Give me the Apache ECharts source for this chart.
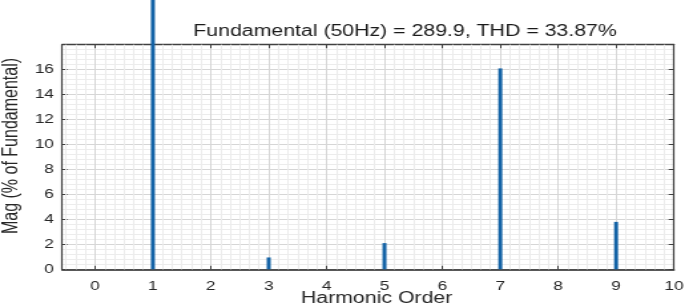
<!DOCTYPE html>
<html><head><meta charset="utf-8">
<script src="https://cdn.jsdelivr.net/npm/echarts@6/dist/echarts.min.js"></script>
<style>
html,body{margin:0;padding:0;background:#fff;overflow:hidden;}
#chart{width:515px;height:305px;transform:scaleX(1.3301);transform-origin:0 0;}
</style>
</head><body><div id="chart"></div>
<script>
// ---- data ----
const harmonicOrders = [1, 3, 5, 7, 9];
const magnitudes = [100, 0.95, 2.1, 16.1, 3.8];
const xTickValues = [0, 1, 2, 3, 4, 5, 6, 7, 8, 9, 10];
const yTickValues = [0, 2, 4, 6, 8, 10, 12, 14, 16];
const titleText = 'Fundamental (50Hz) = 289.9, THD = 33.87%';
const xAxisTitle = 'Harmonic Order';
const yAxisTitle = 'Mag (% of Fundamental)';

// ---- layout ----
const X_MIN = -0.57, X_MAX = 10, Y_MIN = 0, Y_MAX = 18;
const FONT = '"Liberation Sans", Arial, Helvetica, sans-serif';
const TXT = '#262626';
const FRAME = '#404040';

// minor vertical grid positions (6 divisions per unit)
const minorX = [];
for (let k = -1; k < 10; k++) {
  for (let j = 1; j < 6; j++) {
    const v = k + j / 6;
    if (v > X_MIN && v < X_MAX) minorX.push({ xAxis: v });
  }
}

const chart = echarts.init(document.getElementById('chart'), null, { renderer: 'canvas' });
const labelStyle = { color: TXT, fontFamily: FONT, fontSize: 13 };

chart.setOption({
  animation: false,
  backgroundColor: '#fff',
  grid: { left: 46.6, right: 8.3, top: 44.7, bottom: 35.7, containLabel: false, outerBoundsMode: 'none' },
  xAxis: [
    {
      type: 'value', min: X_MIN, max: X_MAX, position: 'bottom', splitNumber: 10,
      axisLine: { show: true, onZero: false, lineStyle: { color: '#222', width: 1.5 } },
      axisTick: { show: true, inside: true, length: 3.5, lineStyle: { color: FRAME } },
      axisLabel: {
        ...labelStyle, margin: 11,
        formatter: v => (xTickValues.indexOf(v) >= 0 ? String(v) : '')
      },
      splitLine: { show: true, lineStyle: { color: '#d6d6d6', width: 1 } },
      minorSplitLine: { show: false },
      name: xAxisTitle, nameLocation: 'middle', nameGap: 21.5, nameMoveOverlap: false,
      nameTextStyle: { color: TXT, fontFamily: FONT, fontSize: 16, padding: [0, 0, 0, 13] }
    },
    {
      type: 'value', min: X_MIN, max: X_MAX, position: 'top', splitNumber: 10,
      axisLine: { show: true, onZero: false, lineStyle: { color: FRAME, width: 1.3 } },
      axisTick: { show: true, inside: true, length: 3.5, lineStyle: { color: FRAME } },
      axisLabel: { show: false },
      splitLine: { show: false }
    }
  ],
  yAxis: [
    {
      type: 'value', min: Y_MIN, max: Y_MAX, interval: 2, position: 'left',
      axisLine: { show: true, onZero: false, lineStyle: { color: FRAME, width: 1.2 } },
      axisTick: { show: true, inside: true, length: 4, lineStyle: { color: FRAME } },
      axisLabel: {
        ...labelStyle, margin: 6,
        formatter: v => (yTickValues.indexOf(v) >= 0 ? String(v) : '')
      },
      splitLine: { show: true, lineStyle: { color: '#d6d6d6', width: 1 } },
      minorTick: { show: false, splitNumber: 5 },
      minorSplitLine: { show: true, lineStyle: { color: '#ececec', width: 1 } }
    },
    {
      type: 'value', min: Y_MIN, max: Y_MAX, interval: 2, position: 'right',
      axisLine: { show: true, onZero: false, lineStyle: { color: FRAME, width: 1.2 } },
      axisTick: { show: true, inside: true, length: 4, lineStyle: { color: FRAME } },
      axisLabel: { show: false },
      splitLine: { show: false }
    }
  ],
  graphic: [
    {
      type: 'text', x: 304.5, y: 31.5, z: 10,
      style: { text: titleText, align: 'center', verticalAlign: 'middle',
               font: '16px ' + FONT, fill: '#1a1a1a' }
    },
    {
      type: 'text', x: 9, y: 146, rotation: Math.PI / 2, z: 10,
      style: { text: yAxisTitle, align: 'center', verticalAlign: 'middle',
               font: '16px ' + FONT, fill: TXT }
    }
  ],
  series: [
    {
      type: 'line', data: [], xAxisIndex: 0, yAxisIndex: 0, z: 1, silent: true,
      markLine: {
        silent: true, symbol: ['none', 'none'], animation: false,
        label: { show: false },
        lineStyle: { color: '#ececec', width: 1, type: 'solid' },
        data: minorX
      }
    },
    {
      type: 'bar', xAxisIndex: 0, yAxisIndex: 0, z: 3,
      data: harmonicOrders.map((h, i) => [h, magnitudes[i]]),
      barWidth: 3, clip: false,
      itemStyle: { color: '#1463a6' }
    }
  ]
});
</script>
</body></html>
